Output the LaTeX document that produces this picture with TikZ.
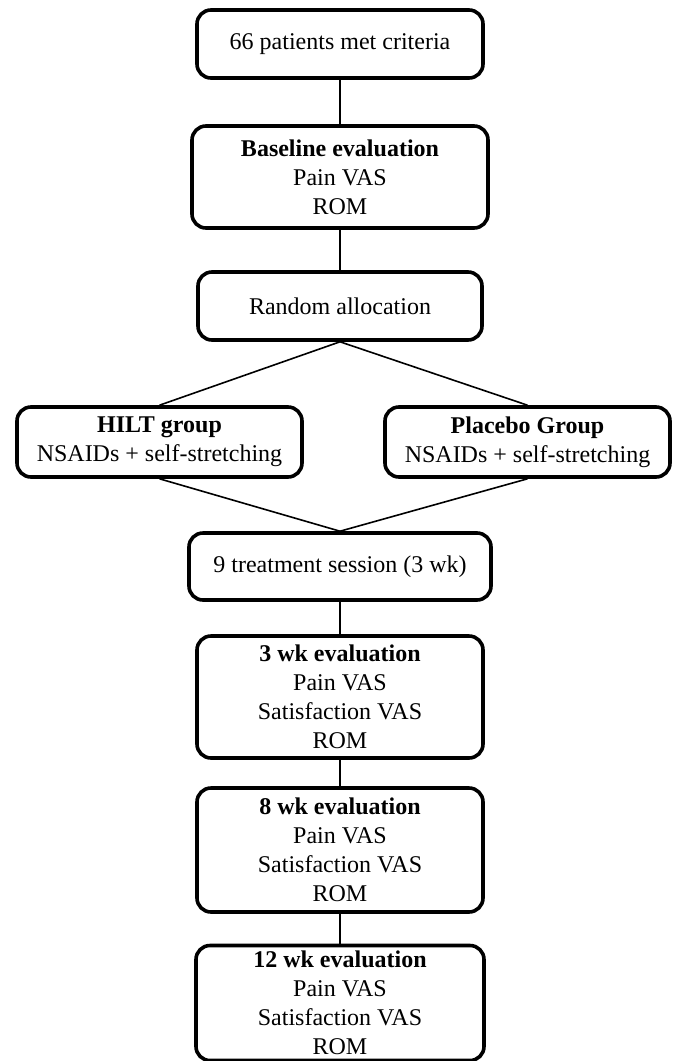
\documentclass[tikz,border=0pt]{standalone}
\usepackage{fontspec}
\setmainfont{Liberation Serif}
\usepackage{tikz}
\usetikzlibrary{positioning}

\begin{document}
\begin{tikzpicture}[x=0.5pt,y=-0.5pt,every node/.style={font=\fontsize{12}{14.5}\selectfont},
    stage/.style={draw, line width=1.8pt, rounded corners=7pt, align=center, inner sep=0pt, minimum width=143pt, minimum height=34pt},
    link/.style={line width=0.8pt}]
        \useasboundingbox (0,0) rectangle (673,1061);

        % enrolment and allocation
        \node[stage] (crit) at (340,44) {66 patients met criteria};
        \node[stage, minimum width=148pt, minimum height=51pt] (base) at (340,177) {\textbf{Baseline evaluation}\\Pain VAS\\ROM};
        \node[stage, minimum width=142pt] (rand) at (340,306) {Random allocation};

        \node[stage, minimum width=142.5pt, minimum height=35pt] (hilt) at (159.5,442) {\textbf{HILT group}\\NSAIDs + self-stretching};
        \node[stage, minimum width=142.5pt, minimum height=35pt] (plac) at (527.5,442) {\textbf{Placebo Group}\\NSAIDs + self-stretching};

        \node[stage, minimum width=151pt, minimum height=33.5pt] (treat) at (340,566.5) {9 treatment session (3 wk)};

        % follow-up evaluations
        \node[stage, minimum height=61pt] (wk3) at (340,697) {\textbf{3 wk evaluation}\\Pain VAS\\Satisfaction VAS\\ROM};
        \node[stage, minimum height=62pt] (wk8) at (340,850) {\textbf{8 wk evaluation}\\Pain VAS\\Satisfaction VAS\\ROM};
        \node[stage, minimum width=144pt, minimum height=57.5pt] (wk12) at (340,1003) {\textbf{12 wk evaluation}\\Pain VAS\\Satisfaction VAS\\ROM};

        \draw[link] (crit) -- (base);
        \draw[link] (base) -- (rand);
        \draw[link] (rand.south) -- (hilt.north);
        \draw[link] (rand.south) -- (plac.north);
        \draw[link] (hilt.south) -- (treat.north);
        \draw[link] (plac.south) -- (treat.north);
        \draw[link] (treat) -- (wk3);
        \draw[link] (wk3) -- (wk8);
        \draw[link] (wk8) -- (wk12);
    \end{tikzpicture}
\end{document}
